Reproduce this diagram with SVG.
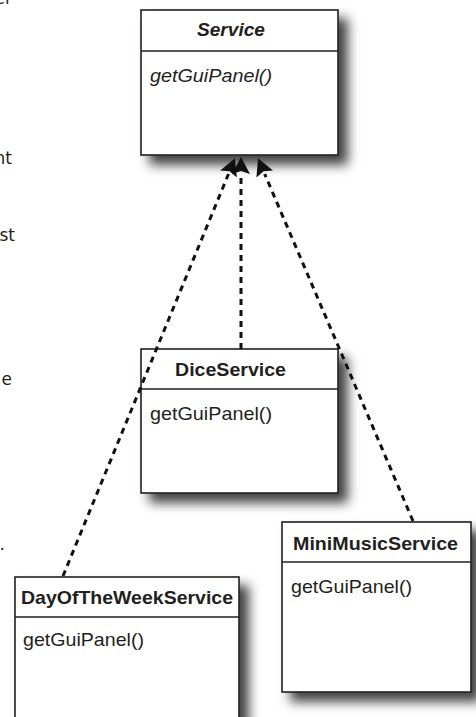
<svg xmlns="http://www.w3.org/2000/svg" width="476" height="717" viewBox="0 0 476 717">
<style>
.box{fill:#fff;stroke:#231f20;stroke-width:1.6}
.div{stroke:#231f20;stroke-width:1.6}
.title{font-family:"Liberation Sans",Arial,sans-serif;font-weight:bold;font-size:19px;fill:#231f20}
.meth{font-family:"Liberation Sans",Arial,sans-serif;font-size:19px;fill:#231f20}
.it{font-style:italic}
.note{font-family:"DejaVu Sans",sans-serif;font-size:17px;fill:#231f20}
.conn{fill:none;stroke:#111;stroke-width:3;stroke-dasharray:6 5}
</style>
<defs>
<filter id="sh" x="-10%" y="-10%" width="135%" height="135%">
<feDropShadow dx="9" dy="9" stdDeviation="6" flood-color="#000" flood-opacity="0.75"/>
</filter>
<marker id="ah" markerUnits="userSpaceOnUse" markerWidth="20" markerHeight="20" refX="0" refY="9" orient="auto">
<path d="M0,0 L17,9 L0,18 L3,9 z" fill="#111"/>
</marker>
</defs>
<g id="notes">
<text class="note" x="12" y="4" text-anchor="end">er</text>
<text class="note" x="12" y="164" text-anchor="end">nt</text>
<text class="note" x="15" y="241" text-anchor="end">st</text>
<text class="note" x="12" y="385" text-anchor="end">e</text>
<text class="note" x="5" y="550" text-anchor="end">.</text>
</g>
<g id="Service">
<rect class="box" x="141" y="10" width="197" height="145" filter="url(#sh)"/>
<line class="div" x1="141" y1="51" x2="338" y2="51"/>
<text class="title it" x="197" y="36" textLength="68" lengthAdjust="spacingAndGlyphs">Service</text>
<text class="meth it" x="150" y="82" textLength="122" lengthAdjust="spacingAndGlyphs">getGuiPanel()</text>
</g>
<g id="DiceService">
<rect class="box" x="141" y="349" width="197" height="144" filter="url(#sh)"/>
<line class="div" x1="141" y1="389" x2="338" y2="389"/>
<text class="title" x="175" y="376" textLength="111" lengthAdjust="spacingAndGlyphs">DiceService</text>
<text class="meth" x="150" y="420" textLength="122" lengthAdjust="spacingAndGlyphs">getGuiPanel()</text>
</g>
<g id="MiniMusicService">
<rect class="box" x="282" y="522" width="189" height="170" filter="url(#sh)"/>
<line class="div" x1="282" y1="562" x2="471" y2="562"/>
<text class="title" x="293" y="550" textLength="165" lengthAdjust="spacingAndGlyphs">MiniMusicService</text>
<text class="meth" x="291" y="593" textLength="121" lengthAdjust="spacingAndGlyphs">getGuiPanel()</text>
</g>
<g id="DayOfTheWeekService">
<rect class="box" x="15" y="577" width="224" height="160" filter="url(#sh)"/>
<line class="div" x1="15" y1="617" x2="239" y2="617"/>
<text class="title" x="21" y="604" textLength="212" lengthAdjust="spacingAndGlyphs">DayOfTheWeekService</text>
<text class="meth" x="23" y="646" textLength="121" lengthAdjust="spacingAndGlyphs">getGuiPanel()</text>
</g>
<g id="connectors">
<path class="conn" d="M63,576 L228.5,174" marker-end="url(#ah)"/>
<path class="conn" d="M241,349 L241,174" marker-end="url(#ah)"/>
<path class="conn" d="M413,521 L264.7,174" marker-end="url(#ah)"/>
</g>
</svg>
